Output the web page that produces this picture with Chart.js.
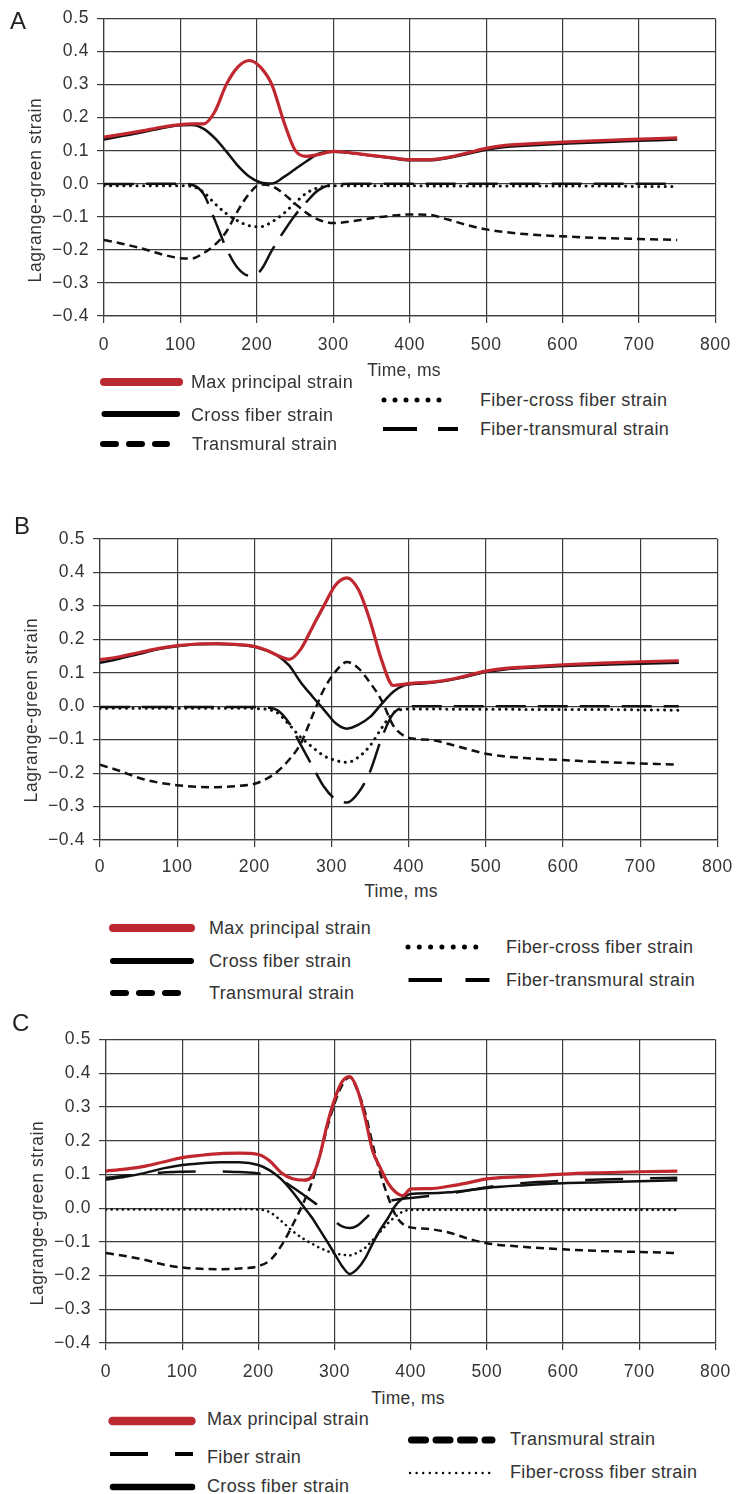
<!DOCTYPE html>
<html>
<head>
<meta charset="utf-8">
<title>Lagrange-green strain</title>
<script src="https://cdn.jsdelivr.net/npm/chart.js@4.4.1/dist/chart.umd.min.js"></script>
<style>
  body { margin: 0; background: #fff; }
  #page { position: relative; width: 742px; height: 1494px; overflow: hidden;
          font-family: "Liberation Sans", Arial, sans-serif; color: #333; }
  #page canvas { position: absolute; left: 0; }
  .txt { position: absolute; white-space: nowrap; }
  .letter { font-size: 24px; line-height: 24px; color: #222; }
  .leg { font-size: 18px; line-height: 18px; letter-spacing: 0.35px; }
  .xtitle { font-size: 17.5px; line-height: 17.5px; letter-spacing: 0.3px; transform: translate(-50%, -50%); }
  .ytitle { font-size: 17.5px; line-height: 17.5px; letter-spacing: 0.6px; transform: translate(-50%, -50%) rotate(-90deg); }
  #marks { position: absolute; left: 0; top: 0; }
</style>
</head>
<body>
<div id="page">
  <canvas id="chartA"></canvas>
  <canvas id="chartB"></canvas>
  <canvas id="chartC"></canvas>

  <div class="txt letter" style="left:10px; top:9px;">A</div>
  <div class="txt letter" style="left:14px; top:514px;">B</div>
  <div class="txt letter" style="left:12px; top:1011px;">C</div>

  <div class="txt ytitle" style="left:35.5px; top:190px;">Lagrange-green strain</div>
  <div class="txt ytitle" style="left:32px; top:710px;">Lagrange-green strain</div>
  <div class="txt ytitle" style="left:38px; top:1213px;">Lagrange-green strain</div>

  <div class="txt xtitle" style="left:404px; top:371px;">Time, ms</div>
  <div class="txt xtitle" style="left:401px; top:892px;">Time, ms</div>
  <div class="txt xtitle" style="left:408px; top:1399px;">Time, ms</div>

  <!-- legend A -->
  <div class="txt leg" style="left:191px; top:373px;">Max principal strain</div>
  <div class="txt leg" style="left:191px; top:406px;">Cross fiber strain</div>
  <div class="txt leg" style="left:192px; top:435px;">Transmural strain</div>
  <div class="txt leg" style="left:480px; top:391px;">Fiber-cross fiber strain</div>
  <div class="txt leg" style="left:480px; top:420px;">Fiber-transmural strain</div>

  <!-- legend B -->
  <div class="txt leg" style="left:209px; top:919px;">Max principal strain</div>
  <div class="txt leg" style="left:209px; top:952px;">Cross fiber strain</div>
  <div class="txt leg" style="left:209px; top:984px;">Transmural strain</div>
  <div class="txt leg" style="left:506px; top:938px;">Fiber-cross fiber strain</div>
  <div class="txt leg" style="left:506px; top:971px;">Fiber-transmural strain</div>

  <!-- legend C -->
  <div class="txt leg" style="left:207px; top:1410px;">Max principal strain</div>
  <div class="txt leg" style="left:207px; top:1448px;">Fiber strain</div>
  <div class="txt leg" style="left:207px; top:1477px;">Cross fiber strain</div>
  <div class="txt leg" style="left:510px; top:1430px;">Transmural strain</div>
  <div class="txt leg" style="left:510px; top:1463px;">Fiber-cross fiber strain</div>

  <svg id="marks" width="742" height="1494">
    <g fill="none" stroke="#000">
      <!-- A -->
      <line x1="104" y1="382" x2="179" y2="382" stroke="#bb2a31" stroke-width="8" stroke-linecap="round"/>
      <line x1="104.5" y1="414" x2="177" y2="414" stroke-width="6" stroke-linecap="round"/>
      <line x1="103" y1="444" x2="167" y2="444" stroke-width="6" stroke-linecap="round" stroke-dasharray="13 13"/>
      <line x1="384" y1="400" x2="450" y2="400" stroke-width="5" stroke-linecap="round" stroke-dasharray="0 11"/>
      <line x1="383" y1="429" x2="458" y2="429" stroke-width="4" stroke-dasharray="34 21"/>
      <!-- B -->
      <line x1="113" y1="928" x2="191" y2="928" stroke="#bb2a31" stroke-width="8" stroke-linecap="round"/>
      <line x1="113" y1="961" x2="191" y2="961" stroke-width="6" stroke-linecap="round"/>
      <line x1="113" y1="993" x2="191" y2="993" stroke-width="6" stroke-linecap="round" stroke-dasharray="13 13"/>
      <line x1="408" y1="947" x2="487" y2="947" stroke-width="5" stroke-linecap="round" stroke-dasharray="0 11.3"/>
      <line x1="408.5" y1="980" x2="489.5" y2="980" stroke-width="4" stroke-dasharray="33.5 23.5"/>
      <!-- C -->
      <line x1="112.5" y1="1421" x2="191.5" y2="1421" stroke="#bb2a31" stroke-width="8.5" stroke-linecap="round"/>
      <line x1="110" y1="1454" x2="193" y2="1454" stroke-width="4" stroke-dasharray="38 27"/>
      <line x1="113" y1="1487" x2="192" y2="1487" stroke-width="6.5" stroke-linecap="round"/>
      <line x1="411.5" y1="1440" x2="492" y2="1440" stroke-width="7" stroke-linecap="round" stroke-dasharray="14 10.5"/>
      <line x1="410" y1="1473" x2="490" y2="1473" stroke-width="2.4" stroke-linecap="round" stroke-dasharray="0 6.6"/>
    </g>
  </svg>
</div>

<script>
// axis ticks shared by all three panels
const xTicks = [0, 100, 200, 300, 400, 500, 600, 700, 800];
const yTicks = [-0.4, -0.3, -0.2, -0.1, 0, 0.1, 0.2, 0.3, 0.4, 0.5];

// panel A
const timeA = [0, 25, 50, 75, 100, 115, 130, 145, 160, 175, 190, 205, 220, 235, 250, 265,
               280, 300, 325, 350, 375, 400, 425, 450, 475, 500, 525, 550, 600, 650, 700, 750];
const maxA = [0.141, 0.150, 0.160, 0.171, 0.179, 0.181, 0.181, 0.218, 0.300, 0.353, 0.373, 0.352, 0.298, 0.190, 0.102, 0.083,
              0.088, 0.098, 0.093, 0.086, 0.079, 0.073, 0.073, 0.080, 0.093, 0.107, 0.116, 0.120, 0.126, 0.131, 0.135, 0.139];
const crossA = [0.134, 0.145, 0.156, 0.168, 0.177, 0.178, 0.167, 0.138, 0.098, 0.055, 0.022, 0.004, 0.001, 0.020, 0.044, 0.068,
                0.090, 0.097, 0.092, 0.085, 0.078, 0.071, 0.071, 0.078, 0.090, 0.103, 0.111, 0.115, 0.121, 0.126, 0.130, 0.134];
const transA = [-0.170, -0.182, -0.196, -0.213, -0.225, -0.226, -0.210, -0.185, -0.145, -0.082, -0.030, -0.002, -0.007, -0.030, -0.060, -0.088,
                -0.108, -0.119, -0.113, -0.104, -0.097, -0.093, -0.094, -0.108, -0.125, -0.138, -0.146, -0.152, -0.159, -0.164, -0.167, -0.170];
const fiberCrossA = [-0.006, -0.006, -0.006, -0.006, -0.006, -0.008, -0.025, -0.060, -0.090, -0.112, -0.127, -0.130, -0.115, -0.090, -0.058, -0.028,
                     -0.012, -0.006, -0.006, -0.006, -0.006, -0.006, -0.007, -0.007, -0.007, -0.007, -0.007, -0.007, -0.007, -0.007, -0.008, -0.008];
const fiberTransA = [-0.001, -0.001, 0, 0, 0, -0.003, -0.030, -0.110, -0.195, -0.255, -0.278, -0.262, -0.200, -0.145, -0.095, -0.055,
                     -0.020, -0.002, 0, 0, 0, 0, 0, 0, 0, 0, 0, 0, 0, 0, 0, 0];

// panel B
const timeB = [0, 25, 50, 75, 100, 125, 150, 175, 200, 215, 230, 245, 260, 275, 290, 305,
               320, 335, 350, 365, 380, 395, 410, 430, 460, 500, 525, 550, 600, 650, 700, 750];
const maxB = [0.139, 0.148, 0.160, 0.172, 0.181, 0.186, 0.187, 0.185, 0.179, 0.168, 0.152, 0.140, 0.170, 0.235, 0.300, 0.362,
              0.384, 0.348, 0.255, 0.137, 0.062, 0.066, 0.070, 0.072, 0.083, 0.105, 0.113, 0.117, 0.124, 0.129, 0.133, 0.136];
const crossB = [0.130, 0.142, 0.156, 0.170, 0.179, 0.185, 0.186, 0.184, 0.178, 0.167, 0.151, 0.122, 0.072, 0.030, -0.010, -0.050,
                -0.067, -0.055, -0.032, 0.007, 0.043, 0.063, 0.067, 0.070, 0.081, 0.102, 0.110, 0.114, 0.120, 0.124, 0.127, 0.130];
const transB = [-0.175, -0.193, -0.214, -0.228, -0.236, -0.241, -0.242, -0.239, -0.232, -0.218, -0.195, -0.160, -0.112, -0.030, 0.050, 0.103,
                0.132, 0.113, 0.070, 0.017, -0.058, -0.090, -0.098, -0.101, -0.118, -0.142, -0.150, -0.155, -0.161, -0.167, -0.171, -0.175];
const fiberCrossB = [-0.007, -0.006, -0.006, -0.006, -0.006, -0.006, -0.006, -0.006, -0.007, -0.009, -0.020, -0.055, -0.093, -0.122, -0.148, -0.162,
                     -0.168, -0.152, -0.118, -0.065, -0.020, -0.009, -0.008, -0.008, -0.009, -0.009, -0.009, -0.010, -0.010, -0.010, -0.011, -0.012];
const fiberTransB = [-0.002, -0.002, -0.002, -0.002, -0.002, -0.002, -0.002, -0.002, -0.002, -0.003, -0.012, -0.050, -0.115, -0.178, -0.240, -0.278,
                     -0.288, -0.258, -0.195, -0.095, -0.022, -0.003, 0, 0, 0, 0, 0, 0, 0, 0, 0, 0];

// panel C
const timeC = [0, 25, 50, 75, 100, 125, 150, 175, 200, 215, 230, 245, 260, 270, 280, 290, 300, 310,
               320, 330, 340, 350, 360, 370, 380, 390, 400, 425, 450, 475, 500, 550, 600, 650, 700, 750];
const maxC = [0.110, 0.116, 0.124, 0.137, 0.150, 0.157, 0.162, 0.163, 0.159, 0.140, 0.105, 0.087, 0.083, 0.092, 0.150, 0.245, 0.322, 0.375,
              0.390, 0.352, 0.270, 0.170, 0.120, 0.075, 0.048, 0.037, 0.057, 0.058, 0.065, 0.075, 0.087, 0.094, 0.101, 0.105, 0.108, 0.110];
const fiberC = [0.090, 0.096, 0.101, 0.106, 0.108, 0.109, 0.109, 0.107, 0.103, 0.095, 0.083, 0.062, 0.038, 0.022, 0.005, -0.017, -0.038, -0.054,
                -0.059, -0.052, -0.032, -0.010, 0.008, 0.020, 0.025, 0.028, 0.030, 0.036, 0.043, 0.052, 0.062, 0.075, 0.081, 0.085, 0.088, 0.090];
const crossC = [0.085, 0.093, 0.104, 0.118, 0.128, 0.133, 0.136, 0.136, 0.128, 0.112, 0.086, 0.048, 0.003, -0.027, -0.062, -0.098, -0.135, -0.172,
                -0.195, -0.180, -0.150, -0.105, -0.064, -0.030, 0.008, 0.030, 0.042, 0.044, 0.047, 0.053, 0.060, 0.068, 0.074, 0.077, 0.080, 0.083];
const transC = [-0.133, -0.142, -0.153, -0.167, -0.176, -0.180, -0.181, -0.179, -0.172, -0.155, -0.112, -0.050, 0.020, 0.075, 0.150, 0.235, 0.310, 0.365,
                0.388, 0.350, 0.285, 0.190, 0.104, 0.035, -0.020, -0.048, -0.057, -0.062, -0.072, -0.090, -0.104, -0.115, -0.122, -0.127, -0.130, -0.133];
const fiberCrossC = [-0.004, -0.004, -0.004, -0.004, -0.004, -0.004, -0.004, -0.003, -0.004, -0.012, -0.038, -0.068, -0.092, -0.105, -0.117, -0.127, -0.134, -0.138,
                     -0.140, -0.132, -0.118, -0.095, -0.070, -0.045, -0.025, -0.010, -0.005, -0.005, -0.005, -0.005, -0.005, -0.005, -0.005, -0.005, -0.005, -0.005];

const RED = '#c0272e';
const INK = '#111';
const GRID = '#3c3c3c';
const FONT = '"Liberation Sans", Arial, sans-serif';

const styles = {
    max:        { borderColor: RED, borderWidth: 3.2 },
    cross:      { borderColor: INK, borderWidth: 2.5 },
    trans:      { borderColor: INK, borderWidth: 2.5, borderDash: [8, 5] },
    fiberCross: { borderColor: INK, borderWidth: 3, borderDash: [0.1, 6.5], borderCapStyle: 'round' },
    fineDots:   { borderColor: INK, borderWidth: 2.6, borderDash: [0.1, 5.5], borderCapStyle: 'round' },
    fiberTrans: { borderColor: INK, borderWidth: 2.5, borderDash: [30, 12] },
    fiber:      { borderColor: INK, borderWidth: 2.5, borderDash: [38, 27], borderDashOffset: 13 }
};

function series(label, times, values, style) {
    return Object.assign({
        label: label,
        data: times.map((t, i) => ({ x: t, y: values[i] })),
        pointRadius: 0,
        fill: false,
        cubicInterpolationMode: 'monotone',
        borderJoinStyle: 'round'
    }, style);
}

function yLabel(v) {
    const r = Math.round(v * 10) / 10;
    if (r === 0) return '0.0';
    return r < 0 ? '\u2212' + Math.abs(r).toFixed(1) : r.toFixed(1);
}

// wider tick text
const tickSpacing = {
    id: 'tickSpacing',
    beforeDraw(chart) { chart.ctx.letterSpacing = '0.6px'; }
};

function makeChart(id, geo, datasets) {
    const canvas = document.getElementById(id);
    canvas.width = 742;
    canvas.height = geo.height;
    canvas.style.top = geo.top + 'px';

    const grid = { color: GRID, lineWidth: 1.2, tickLength: 7, tickColor: GRID };
    const border = { color: GRID, width: 1.2 };
    const tickFont = { family: FONT, size: 17.5 };

    return new Chart(canvas, {
        type: 'line',
        data: { datasets: datasets },
        plugins: [tickSpacing],
        options: {
            responsive: false,
            animation: false,
            devicePixelRatio: 1,
            layout: { padding: { top: geo.plotTop - geo.top, right: 742 - geo.plotRight, left: 0, bottom: 0 } },
            plugins: { legend: { display: false }, tooltip: { enabled: false } },
            scales: {
                x: {
                    type: 'linear', min: 0, max: 800,
                    afterBuildTicks: s => { s.ticks = xTicks.map(v => ({ value: v })); },
                    afterFit: s => { s.height = geo.top + geo.height - geo.plotBottom; },
                    grid: grid, border: border,
                    ticks: { font: tickFont, color: '#333', padding: geo.xPad, maxRotation: 0, callback: v => String(v) }
                },
                y: {
                    type: 'linear', min: -0.4, max: 0.5,
                    afterBuildTicks: s => { s.ticks = yTicks.map(v => ({ value: v })); },
                    afterFit: s => { s.width = geo.plotLeft; },
                    grid: grid, border: border,
                    ticks: { font: tickFont, color: '#333', padding: 8, callback: yLabel }
                }
            }
        }
    });
}

makeChart('chartA',
    { top: 0, height: 362, plotTop: 16.7, plotBottom: 316, plotLeft: 104, plotRight: 720, xPad: 12 },
    [
        series('Max principal strain', timeA, maxA, styles.max),
        series('Cross fiber strain', timeA, crossA, styles.cross),
        series('Transmural strain', timeA, transA, styles.trans),
        series('Fiber-cross fiber strain', timeA, fiberCrossA, styles.fiberCross),
        series('Fiber-transmural strain', timeA, fiberTransA, styles.fiberTrans)
    ]);

makeChart('chartB',
    { top: 505, height: 375, plotTop: 539, plotBottom: 840, plotLeft: 100, plotRight: 723, xPad: 10 },
    [
        series('Max principal strain', timeB, maxB, styles.max),
        series('Cross fiber strain', timeB, crossB, styles.cross),
        series('Transmural strain', timeB, transB, styles.trans),
        series('Fiber-cross fiber strain', timeB, fiberCrossB, styles.fiberCross),
        series('Fiber-transmural strain', timeB, fiberTransB, styles.fiberTrans)
    ]);

makeChart('chartC',
    { top: 1005, height: 380, plotTop: 1039.6, plotBottom: 1343, plotLeft: 106, plotRight: 723, xPad: 12 },
    [
        series('Max principal strain', timeC, maxC, styles.max),
        series('Transmural strain', timeC, transC, styles.trans),
        series('Fiber strain', timeC, fiberC, styles.fiber),
        series('Cross fiber strain', timeC, crossC, styles.cross),
        series('Fiber-cross fiber strain', timeC, fiberCrossC, styles.fineDots)
    ]);
</script>
</body>
</html>
